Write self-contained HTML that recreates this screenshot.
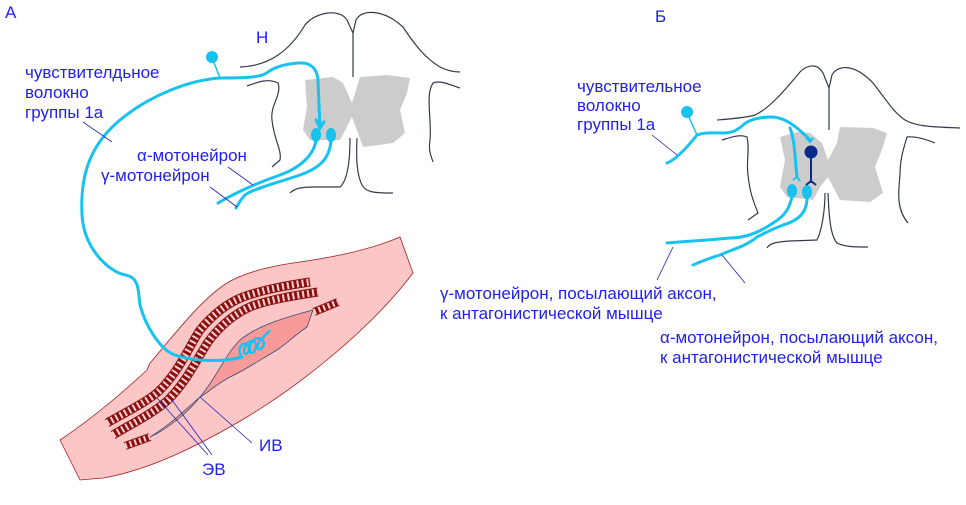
<!DOCTYPE html>
<html><head><meta charset="utf-8"><style>
html,body{margin:0;padding:0;background:#fff;}
svg{display:block;}
text{font-family:"Liberation Sans",sans-serif;font-size:17px;fill:#2020f0;}
</style></head><body>
<svg width="966" height="505" viewBox="0 0 966 505" xmlns="http://www.w3.org/2000/svg">
<!-- ===== Panel A spinal cord ===== -->
<g fill="none" stroke="#333a4a" stroke-width="1.2">
<path d="M240,67 C270,66 290,50 305,25 C315,12 340,8 347,20 L353,33 L356,20 C362,8 385,10 403,27 C415,45 425,58 440,67 C448,71 455,72 460,72"/>
<path d="M353,33 L353,77"/>
<path d="M247,86 C258,82 268,78 278,83 C282,95 270,105 272,120 C274,140 282,150 280,160 L272,167"/>
<path d="M460,88 C448,84 440,80 433,83 C425,95 432,120 430,140 C428,152 432,158 433,162"/>
<path d="M290,193 C295,188 302,187 315,187 L340,187 C348,180 350,160 350,138 M357,138 C356,160 357,175 362,185 C366,192 372,193 393,193"/>
</g>
<path d="M305,80 L333,77 L343,83 L352,103 L360,77 L387,75 L410,78 L407,93 L400,110 L405,133 L393,143 L363,147 L352,117 L340,140 L310,140 L303,130 L307,107 Z" fill="#cccccc"/>
<!-- muscle -->
<path d="M60,440 L80,480 L103,478 C150,470 200,445 247,417 C300,385 370,330 413,273 L400,237 C370,250 330,258 293,263 C260,268 240,275 227,283 C200,300 170,340 150,363 L147,370 C120,395 90,420 60,440 Z" fill="#fcc6c6" stroke="#a02020" stroke-width="0.8"/>
<path d="M150,437 C170,425 185,410 200,397 C215,380 225,355 240,340 C255,328 275,320 313,310 L307,327 C295,335 285,345 277,350 C260,360 245,370 230,377 C215,385 205,395 200,397 C190,410 170,428 150,437 Z" fill="#f89a9a" stroke="#3a4a70" stroke-width="0.8"/>
<g fill="none">
<path d="M107,423 C130,410 150,400 160,390 C180,370 190,345 200,330 C215,312 230,302 243,297 C265,289 290,285 310,282" stroke="#8a1010" stroke-width="9"/>
<path d="M107,423 C130,410 150,400 160,390 C180,370 190,345 200,330 C215,312 230,302 243,297 C265,289 290,285 310,282" stroke="#fbd0d0" stroke-width="7" stroke-dasharray="2 3"/>
<path d="M113,435 C135,422 155,412 168,400 C188,380 198,357 208,342 C222,323 238,312 252,306 C272,299 298,295 318,292" stroke="#8a1010" stroke-width="9"/>
<path d="M113,435 C135,422 155,412 168,400 C188,380 198,357 208,342 C222,323 238,312 252,306 C272,299 298,295 318,292" stroke="#fbd0d0" stroke-width="7" stroke-dasharray="2 3"/>
<path d="M125,446 L150,437" stroke="#8a1010" stroke-width="8"/>
<path d="M125,446 L150,437" stroke="#fbd0d0" stroke-width="6" stroke-dasharray="2 3"/>
<path d="M314,312 L338,302" stroke="#8a1010" stroke-width="8"/>
<path d="M314,312 L338,302" stroke="#fbd0d0" stroke-width="6" stroke-dasharray="2 3"/>
</g>
<!-- afferent A -->
<g fill="none" stroke="#18c2ee" stroke-width="3" stroke-linecap="round">
<path d="M320,128 L318,80 C317,68 310,62 298,63 C285,64 275,67 268,72 C262,77 250,78 220,78 C190,80 150,95 120,120 C90,145 80,175 82,215 C84,250 110,272 125,275 C140,277 138,292 140,305 C145,325 160,350 175,355 C195,362 225,362 242,357"/>
<path d="M316,120 L320,128 L324,122"/>
<path d="M316,140 C314,155 300,168 280,175 C260,182 240,190 218,203"/>
<path d="M331,140 C330,158 320,168 300,175 C280,182 255,188 245,195 C240,200 238,205 236,208"/>
</g>
<path d="M242,357 C236,350 242,340 248,345 C252,352 244,358 244,350 C246,340 256,338 256,346 C256,354 248,356 250,346 C253,336 264,336 264,344 C262,352 256,350 258,344 C262,336 268,334 270,330" fill="none" stroke="#18c2ee" stroke-width="2.4"/>
<line x1="220" y1="78" x2="213" y2="60" stroke="#18c2ee" stroke-width="1.5"/>
<circle cx="212" cy="57" r="6" fill="#18c2ee"/>
<ellipse cx="316" cy="135" rx="5" ry="7" fill="#18c2ee"/>
<ellipse cx="331" cy="135" rx="5" ry="7" fill="#18c2ee"/>
<g stroke="#2020c0" stroke-width="0.8">
<line x1="83" y1="122" x2="112" y2="142"/>
<line x1="228" y1="167" x2="253" y2="185"/>
<line x1="210" y1="187" x2="237" y2="207"/>
<line x1="157" y1="398" x2="208" y2="455"/>
<line x1="172" y1="400" x2="212" y2="455"/>
<line x1="200" y1="397" x2="252" y2="443"/>
</g>
<text x="5" y="18">А</text>
<text x="256" y="43">Н</text>
<text x="25" y="78">чувствителдьное</text>
<text x="25" y="98">волокно</text>
<text x="25" y="118">группы 1а</text>
<text x="137" y="161">α-мотонейрон</text>
<text x="101" y="181">γ-мотонейрон</text>
<text x="202" y="475">ЭВ</text>
<text x="259" y="451">ИВ</text>
<!-- ===== Panel B ===== -->
<g fill="none" stroke="#333a4a" stroke-width="1.2">
<path d="M717,120 C730,119 745,118 755,115 C770,108 785,90 800,72 C808,64 820,62 825,78 L829,88 L832,75 C838,64 855,64 873,83 C885,98 893,112 905,120 C915,126 930,127 960,128"/>
<path d="M829,88 L829,130"/>
<path d="M722,140 C732,137 740,134 747,137 C750,150 746,160 748,175 C750,195 755,205 758,213 L748,220"/>
<path d="M935,143 C925,139 915,136 907,137 C903,150 900,160 900,175 C898,195 897,210 908,223"/>
<path d="M767,248 C770,243 776,242 790,241 L817,240 C822,230 825,210 825,193 M828,193 C829,215 830,235 837,243 C845,247 855,247 868,247"/>
</g>
<path d="M780,137 L797,132 L810,133 L822,143 L828,160 L837,143 L840,127 L873,128 L887,133 L883,147 L875,167 L883,193 L870,202 L840,200 L828,177 L820,187 L813,200 L787,197 L780,187 L785,160 Z" fill="#cccccc"/>
<g fill="none" stroke="#18c2ee" stroke-width="3" stroke-linecap="round">
<path d="M667,163 C675,160 685,150 697,135 C705,132 715,133 723,133 C733,133 737,130 742,126 C748,120 758,117 773,117 C785,118 795,125 810,140"/>
<path d="M790,128 C795,140 795,160 797,177"/>
<path d="M792,197 C790,205 787,215 773,223 C760,232 745,238 730,238 C710,240 690,241 667,243"/>
<path d="M807,200 C806,212 800,220 783,225 C770,230 765,233 757,237 C745,247 730,250 720,255 C710,258 700,262 693,265"/>
</g>
<g fill="none" stroke="#18c2ee" stroke-width="2">
<path d="M806,138 L810,142 L813,138"/>
<path d="M793,180 L797,177 L800,181"/>
</g>
<line x1="697" y1="135" x2="688" y2="115" stroke="#18c2ee" stroke-width="1.5"/>
<circle cx="687" cy="112" r="6" fill="#18c2ee"/>
<ellipse cx="792" cy="191" rx="5" ry="7" fill="#18c2ee"/>
<ellipse cx="807" cy="192" rx="5" ry="7" fill="#18c2ee"/>
<circle cx="811" cy="152" r="6.5" fill="#0a2a8a"/>
<path d="M811,155 L811,183 M806,185 L811,181 L816,185" fill="none" stroke="#0a2a8a" stroke-width="2"/>
<g stroke="#2020c0" stroke-width="0.8">
<line x1="652" y1="135" x2="677" y2="155"/>
<line x1="673" y1="247" x2="657" y2="280"/>
<line x1="722" y1="255" x2="745" y2="283"/>
</g>
<text x="655" y="22">Б</text>
<text x="577" y="92">чувствительное</text>
<text x="577" y="111">волокно</text>
<text x="577" y="130">группы 1а</text>
<text x="440" y="299">γ-мотонейрон, посылающий аксон,</text>
<text x="440" y="319">к антагонистической мышце</text>
<text x="660" y="343">α-мотонейрон, посылающий аксон,</text>
<text x="660" y="363">к антагонистической мышце</text>
</svg>
</body></html>
